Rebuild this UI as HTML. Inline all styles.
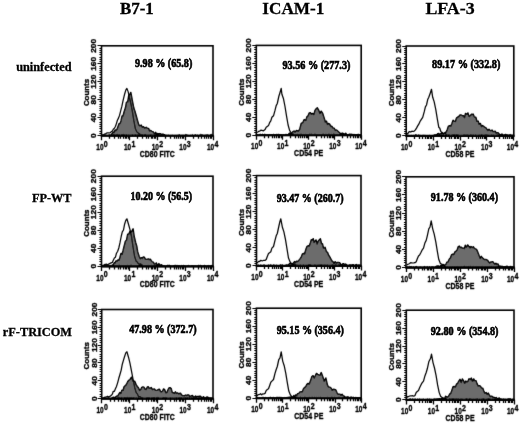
<!DOCTYPE html>
<html lang="en"><head><meta charset="utf-8"><title>Figure</title>
<style>html,body{margin:0;padding:0;background:#fff}body{width:520px;height:423px;overflow:hidden}svg{display:block}</style></head>
<body>
<svg width="520" height="423" viewBox="0 0 520 423">
<rect width="520" height="423" fill="#fff"/>
<g font-family="'Liberation Serif', serif" font-weight="bold" fill="#000" stroke="#000" stroke-width="0.3">
<text x="120.0" y="13.8" font-size="17.6" textLength="33.8" lengthAdjust="spacingAndGlyphs">B7-1</text>
<text x="262.3" y="13.8" font-size="17.6" textLength="62.0" lengthAdjust="spacingAndGlyphs">ICAM-1</text>
<text x="425.4" y="13.8" font-size="17.6" textLength="49.2" lengthAdjust="spacingAndGlyphs">LFA-3</text>
<text x="16.2" y="71.3" font-size="12.3" textLength="55.3" lengthAdjust="spacingAndGlyphs">uninfected</text>
<text x="32.0" y="201.6" font-size="12.3" textLength="39.5" lengthAdjust="spacingAndGlyphs">FP-WT</text>
<text x="2.8" y="336.3" font-size="12.3" textLength="69.2" lengthAdjust="spacingAndGlyphs">rF-TRICOM</text>
<text x="135.0" y="67.0" font-size="12" stroke-width="0.65" textLength="57.3" lengthAdjust="spacingAndGlyphs">9.98 % (65.8)</text>
<text x="282.4" y="68.6" font-size="12" stroke-width="0.65" textLength="68.0" lengthAdjust="spacingAndGlyphs">93.56 % (277.3)</text>
<text x="432.0" y="68.4" font-size="12" stroke-width="0.65" textLength="68.4" lengthAdjust="spacingAndGlyphs">89.17 % (332.8)</text>
<text x="130.5" y="199.8" font-size="12" stroke-width="0.65" textLength="61.5" lengthAdjust="spacingAndGlyphs">10.20 % (56.5)</text>
<text x="276.8" y="201.5" font-size="12" stroke-width="0.65" textLength="66.7" lengthAdjust="spacingAndGlyphs">93.47 % (260.7)</text>
<text x="430.8" y="201.0" font-size="12" stroke-width="0.65" textLength="67.2" lengthAdjust="spacingAndGlyphs">91.78 % (360.4)</text>
<text x="129.2" y="332.5" font-size="12" stroke-width="0.65" textLength="67.4" lengthAdjust="spacingAndGlyphs">47.98 % (372.7)</text>
<text x="276.8" y="334.3" font-size="12" stroke-width="0.65" textLength="67.0" lengthAdjust="spacingAndGlyphs">95.15 % (356.4)</text>
<text x="430.8" y="334.5" font-size="12" stroke-width="0.65" textLength="67.7" lengthAdjust="spacingAndGlyphs">92.80 % (354.8)</text>
</g>
<g id="fig" filter="url(#soft)">
<g>
<path d="M111.5 134.5L112.4 133.3L113.3 132.1L114.2 132.5L115.1 130.0L116.0 130.5L116.9 129.6L117.9 127.1L119.0 123.7L120.0 123.5L121.0 120.9L122.1 115.9L123.1 115.8L124.2 111.5L125.4 108.1L126.5 102.1L127.7 101.9L128.8 95.1L130.0 94.2L130.8 92.4L132.3 100.4L133.8 108.1L135.0 111.5L136.2 115.8L137.7 121.2L138.8 124.9L140.0 125.8L141.2 125.1L142.3 127.3L143.5 126.7L144.6 128.1L146.2 127.3L147.3 128.3L148.5 128.4L149.6 130.9L150.8 130.4L151.8 131.4L152.8 131.6L153.8 132.7L154.8 134.1L155.7 132.3L156.6 134.4L157.5 133.5L158.5 134.2L159.3 133.6L160.2 133.7L161.1 134.1L162.0 135.0L162.9 134.0L163.7 134.8L164.6 134.7V135.6H111.5Z" fill="#6c6c6c" stroke="#000" stroke-width="1.45" stroke-linejoin="round"/>
<path d="M103.1 134.5L104.0 134.5L104.8 133.9L105.7 133.9L106.6 133.0L107.5 132.8L108.4 132.8L109.2 133.0L110.3 132.7L111.3 131.6L112.3 131.2L113.3 129.2L114.4 128.3L115.4 126.5L116.4 123.6L117.4 120.3L118.5 118.1L119.6 115.2L120.8 110.4L121.9 106.2L123.1 100.4L124.6 94.2L125.8 90.1L126.9 88.4L128.2 91.9L129.2 96.5L130.8 103.5L132.3 111.2L133.8 120.4L135.4 128.8L136.9 131.9L137.9 132.8L139.0 133.5L140.0 134.2L141.0 134.9L142.1 135.0L143.1 135.0" fill="none" stroke="#000" stroke-width="1.25" stroke-linejoin="round"/>
<path d="M101.5 135.2L102.4 134.2L103.3 135.4L104.2 135.0L105.1 134.5L106.0 135.4L106.9 134.9L107.8 135.5L108.7 134.7L109.6 134.5L110.5 134.8L111.4 134.4L112.3 135.2L113.2 134.6L114.1 134.8L115.0 134.8L115.9 135.0L116.8 134.4L117.7 134.3L118.6 134.9L119.5 134.7L120.4 135.5L121.3 134.6L122.2 134.7L123.1 134.2L124.0 134.4L124.9 135.2L125.8 135.1L126.7 134.7L127.6 135.6L128.5 135.0L129.4 135.4L130.3 135.4L131.2 135.5L132.1 134.5L133.0 135.4L133.9 135.3L134.8 135.1L135.7 134.4L136.6 135.5L137.5 135.0L138.4 134.8L139.3 134.4L140.2 134.5L141.1 134.4L142.0 135.2L142.9 135.0L143.8 135.1L144.7 134.4L145.6 134.3L146.5 135.4L147.4 135.4L148.3 135.3L149.2 135.3L150.1 134.9L151.0 134.8L151.9 135.2L152.8 135.6L153.7 135.0L154.6 135.1L155.5 134.8L156.4 134.3L157.3 134.6L158.2 134.9L159.1 134.7L160.0 134.7L160.9 135.5L161.8 134.3L162.7 134.5L163.6 134.4L164.5 134.5L165.4 135.1L166.3 135.0L167.2 135.5L168.1 134.7L169.0 135.5L169.9 135.5L170.8 135.3L171.7 135.4L172.6 135.1L173.5 135.5L174.4 135.6L175.3 135.4L176.2 135.5L177.1 135.1L178.0 135.6L178.9 134.4L179.8 134.7L180.7 135.4L181.6 135.2L182.5 135.1L183.4 135.1L184.3 135.4L185.2 134.4L186.1 134.2L187.0 134.9L187.9 134.9L188.8 135.5L189.7 135.5L190.6 135.1L191.5 135.2L192.4 134.4L193.3 135.4L194.2 135.6L195.1 134.3L196.0 134.9L196.9 135.4L197.8 134.8L198.7 135.6L199.6 134.9L200.5 134.2L201.4 134.4L202.3 134.6L203.2 135.2L204.1 135.1L205.0 135.4L205.9 134.5L206.8 134.9L207.7 134.5L208.6 135.1L209.5 135.3L210.4 134.5L211.3 134.2L212.2 134.4V136.1H101.5Z" fill="#000" stroke="#000" stroke-width="0.5"/>
<rect x="101.5" y="45.8" width="111.5" height="89.8" fill="none" stroke="#000" stroke-width="1.6"/>
<path d="M100.8 135.7H213.7" stroke="#000" stroke-width="2.1" fill="none"/>
<path d="M101.5 135.50h-4.0M101.5 133.50h-2.1M101.5 131.50h-2.1M101.5 128.50h-2.1M101.5 126.50h-2.1M101.5 124.50h-2.1M101.5 122.50h-2.1M101.5 119.50h-2.1M101.5 117.50h-4.0M101.5 115.50h-2.1M101.5 113.50h-2.1M101.5 110.50h-2.1M101.5 108.50h-2.1M101.5 106.50h-2.1M101.5 104.50h-2.1M101.5 101.50h-2.1M101.5 99.50h-4.0M101.5 97.50h-2.1M101.5 95.50h-2.1M101.5 92.50h-2.1M101.5 90.50h-2.1M101.5 88.50h-2.1M101.5 86.50h-2.1M101.5 83.50h-2.1M101.5 81.50h-4.0M101.5 79.50h-2.1M101.5 77.50h-2.1M101.5 74.50h-2.1M101.5 72.50h-2.1M101.5 70.50h-2.1M101.5 68.50h-2.1M101.5 66.50h-2.1M101.5 63.50h-4.0M101.5 61.50h-2.1M101.5 59.50h-2.1M101.5 57.50h-2.1M101.5 54.50h-2.1M101.5 52.50h-2.1M101.5 50.50h-2.1M101.5 48.50h-2.1M101.5 45.50h-4.0" stroke="#000" stroke-width="1.15" fill="none"/>
<path d="M101.50 135.6v4.6M109.50 135.6v3.1M114.50 135.6v3.1M118.50 135.6v3.1M120.50 135.6v3.1M123.50 135.6v3.1M125.50 135.6v3.1M126.50 135.6v3.1M128.50 135.6v3.1M129.50 135.6v4.6M137.50 135.6v3.1M142.50 135.6v3.1M146.50 135.6v3.1M148.50 135.6v3.1M151.50 135.6v3.1M152.50 135.6v3.1M154.50 135.6v3.1M155.50 135.6v3.1M157.50 135.6v4.6M165.50 135.6v3.1M170.50 135.6v3.1M174.50 135.6v3.1M176.50 135.6v3.1M178.50 135.6v3.1M180.50 135.6v3.1M182.50 135.6v3.1M183.50 135.6v3.1M185.50 135.6v4.6M193.50 135.6v3.1M198.50 135.6v3.1M201.50 135.6v3.1M204.50 135.6v3.1M206.50 135.6v3.1M208.50 135.6v3.1M210.50 135.6v3.1M211.50 135.6v3.1M213.50 135.6v4.6" stroke="#000" stroke-width="1.3" fill="none"/>
<g font-family="'Liberation Sans', sans-serif" font-weight="bold" fill="#000" stroke="#000" stroke-width="0.35">
<text transform="translate(96.3 135.6) rotate(-90)" x="-2.3" y="0" font-size="7.6" textLength="4.6" lengthAdjust="spacingAndGlyphs">0</text>
<text transform="translate(96.3 117.6) rotate(-90)" x="-4.7" y="0" font-size="7.6" textLength="9.3" lengthAdjust="spacingAndGlyphs">40</text>
<text transform="translate(96.3 99.7) rotate(-90)" x="-4.7" y="0" font-size="7.6" textLength="9.3" lengthAdjust="spacingAndGlyphs">80</text>
<text transform="translate(96.3 81.7) rotate(-90)" x="-7.0" y="0" font-size="7.6" textLength="14.0" lengthAdjust="spacingAndGlyphs">120</text>
<text transform="translate(96.3 63.8) rotate(-90)" x="-7.0" y="0" font-size="7.6" textLength="14.0" lengthAdjust="spacingAndGlyphs">160</text>
<text transform="translate(96.3 45.8) rotate(-90)" x="-7.0" y="0" font-size="7.6" textLength="14.0" lengthAdjust="spacingAndGlyphs">200</text>
<text transform="translate(89.2 92.5) rotate(-90)" x="-13.6" y="0" font-size="8" textLength="27.2" lengthAdjust="spacingAndGlyphs">Counts</text>
<text x="96.3" y="149.8" font-size="9.3" textLength="7.2" lengthAdjust="spacingAndGlyphs">10</text>
<text x="103.8" y="146.6" font-size="8.2" textLength="3.9" lengthAdjust="spacingAndGlyphs">0</text>
<text x="124.0" y="149.8" font-size="9.3" textLength="7.2" lengthAdjust="spacingAndGlyphs">10</text>
<text x="131.5" y="146.6" font-size="8.2" textLength="3.9" lengthAdjust="spacingAndGlyphs">1</text>
<text x="151.7" y="149.8" font-size="9.3" textLength="7.2" lengthAdjust="spacingAndGlyphs">10</text>
<text x="159.2" y="146.6" font-size="8.2" textLength="3.9" lengthAdjust="spacingAndGlyphs">2</text>
<text x="179.3" y="149.8" font-size="9.3" textLength="7.2" lengthAdjust="spacingAndGlyphs">10</text>
<text x="186.8" y="146.6" font-size="8.2" textLength="3.9" lengthAdjust="spacingAndGlyphs">3</text>
<text x="207.0" y="149.8" font-size="9.3" textLength="7.2" lengthAdjust="spacingAndGlyphs">10</text>
<text x="214.5" y="146.6" font-size="8.2" textLength="3.9" lengthAdjust="spacingAndGlyphs">4</text>
<text x="139.8" y="156.6" font-size="8.6" textLength="35.0" lengthAdjust="spacingAndGlyphs">CD80 FITC</text>
</g>
</g>
<g>
<path d="M285.8 134.5L286.7 134.8L287.6 134.7L288.5 134.3L289.5 133.1L290.4 133.5L291.3 133.2L292.2 132.5L293.2 131.4L294.1 131.1L295.0 131.9L296.5 130.4L298.1 131.2L299.6 129.6L301.2 123.5L302.7 122.7L304.2 119.6L305.8 120.4L306.9 116.9L308.1 115.8L309.2 112.9L310.4 112.7L311.5 114.2L312.7 113.5L313.8 114.6L315.0 110.4L316.2 108.7L317.3 107.8L318.8 110.4L320.0 113.4L321.2 111.2L322.7 113.5L324.2 118.1L325.4 122.0L326.5 121.2L327.5 124.4L328.5 123.5L328.8 123.5L329.8 124.4L330.8 126.5L331.9 126.3L333.1 128.1L334.2 128.3L335.4 130.4L336.4 130.0L337.4 130.6L338.5 131.9L339.4 132.5L340.3 133.5L341.2 133.6L342.2 133.1L343.1 133.5L344.0 133.9L344.8 134.3L345.7 133.2L346.6 134.4L347.5 134.9L348.4 134.8L349.2 134.5L350.1 134.9L351.0 134.6L351.9 134.2L352.8 135.1L353.7 134.5L354.6 135.1L355.5 135.1L356.4 134.7L357.3 134.8L358.2 135.1L359.1 135.1L360.0 135.0V135.2H285.8Z" fill="#6c6c6c" stroke="#000" stroke-width="1.45" stroke-linejoin="round"/>
<path d="M257.3 132.7L258.5 131.4L259.6 131.2L260.8 130.1L261.9 130.4L263.5 130.8L265.0 129.6L266.2 127.3L267.3 126.5L268.5 125.6L269.6 122.7L270.8 120.9L271.9 117.3L273.5 115.8L275.0 110.4L276.2 105.6L277.3 103.5L278.8 96.5L280.4 91.2L281.2 88.4L281.9 94.2L283.5 98.8L285.0 106.5L286.5 115.8L288.1 125.0L289.6 130.4L291.2 133.0L292.3 134.1L293.5 134.2L294.5 134.9L295.5 134.7L296.5 134.7" fill="none" stroke="#000" stroke-width="1.25" stroke-linejoin="round"/>
<path d="M256.3 134.7L257.2 134.4L258.1 135.0L259.0 135.2L259.9 133.8L260.8 134.3L261.7 134.5L262.6 133.9L263.5 134.6L264.4 134.0L265.3 134.0L266.2 134.9L267.1 134.8L268.0 134.8L268.9 134.9L269.8 134.4L270.7 134.8L271.6 134.6L272.5 135.0L273.4 133.9L274.3 134.7L275.2 134.6L276.1 134.4L277.0 133.9L277.9 134.6L278.8 133.9L279.7 134.5L280.6 134.5L281.5 134.5L282.4 135.2L283.3 134.6L284.2 134.9L285.1 135.2L286.0 134.1L286.9 135.0L287.8 134.5L288.7 134.2L289.6 134.4L290.5 134.7L291.4 134.5L292.3 134.4L293.2 134.1L294.1 135.1L295.0 134.4L295.9 134.9L296.8 134.8L297.7 134.1L298.6 134.5L299.5 134.4L300.4 134.1L301.3 133.9L302.2 134.6L303.1 134.3L304.0 134.5L304.9 134.5L305.8 134.2L306.7 134.6L307.6 134.5L308.5 134.5L309.4 133.9L310.3 134.2L311.2 134.0L312.1 133.9L313.0 134.8L313.9 134.4L314.8 133.9L315.7 134.0L316.6 135.0L317.5 135.0L318.4 134.6L319.3 135.1L320.2 134.9L321.1 135.1L322.0 134.3L322.9 134.1L323.8 133.9L324.7 135.0L325.6 134.2L326.5 134.3L327.4 135.0L328.3 134.0L329.2 133.8L330.1 134.9L331.0 133.9L331.9 134.6L332.8 134.5L333.7 133.8L334.6 134.0L335.5 135.0L336.4 134.6L337.3 134.5L338.2 134.7L339.1 134.9L340.0 134.8L340.9 134.2L341.8 135.2L342.7 134.4L343.6 134.6L344.5 135.2L345.4 134.7L346.3 134.3L347.2 134.5L348.1 135.1L349.0 133.8L349.9 134.1L350.8 133.8L351.7 135.1L352.6 134.8L353.5 135.1L354.4 134.1L355.3 134.8L356.2 135.0L357.1 134.6L358.0 133.9L358.9 134.1L359.8 134.8L360.7 135.0V135.7H256.3Z" fill="#000" stroke="#000" stroke-width="0.5"/>
<rect x="256.3" y="45.4" width="104.9" height="89.8" fill="none" stroke="#000" stroke-width="1.6"/>
<path d="M255.6 135.3H361.9" stroke="#000" stroke-width="2.1" fill="none"/>
<path d="M256.3 135.50h-4.0M256.3 132.50h-2.1M256.3 130.50h-2.1M256.3 128.50h-2.1M256.3 126.50h-2.1M256.3 123.50h-2.1M256.3 121.50h-2.1M256.3 119.50h-2.1M256.3 117.50h-4.0M256.3 114.50h-2.1M256.3 112.50h-2.1M256.3 110.50h-2.1M256.3 108.50h-2.1M256.3 106.50h-2.1M256.3 103.50h-2.1M256.3 101.50h-2.1M256.3 99.50h-4.0M256.3 97.50h-2.1M256.3 94.50h-2.1M256.3 92.50h-2.1M256.3 90.50h-2.1M256.3 88.50h-2.1M256.3 85.50h-2.1M256.3 83.50h-2.1M256.3 81.50h-4.0M256.3 79.50h-2.1M256.3 76.50h-2.1M256.3 74.50h-2.1M256.3 72.50h-2.1M256.3 70.50h-2.1M256.3 67.50h-2.1M256.3 65.50h-2.1M256.3 63.50h-4.0M256.3 61.50h-2.1M256.3 58.50h-2.1M256.3 56.50h-2.1M256.3 54.50h-2.1M256.3 52.50h-2.1M256.3 49.50h-2.1M256.3 47.50h-2.1M256.3 45.50h-4.0" stroke="#000" stroke-width="1.15" fill="none"/>
<path d="M256.50 135.2v4.6M264.50 135.2v3.1M268.50 135.2v3.1M272.50 135.2v3.1M274.50 135.2v3.1M276.50 135.2v3.1M278.50 135.2v3.1M279.50 135.2v3.1M281.50 135.2v3.1M282.50 135.2v4.6M290.50 135.2v3.1M295.50 135.2v3.1M298.50 135.2v3.1M300.50 135.2v3.1M302.50 135.2v3.1M304.50 135.2v3.1M306.50 135.2v3.1M307.50 135.2v3.1M308.50 135.2v4.6M316.50 135.2v3.1M321.50 135.2v3.1M324.50 135.2v3.1M327.50 135.2v3.1M329.50 135.2v3.1M330.50 135.2v3.1M332.50 135.2v3.1M333.50 135.2v3.1M334.50 135.2v4.6M342.50 135.2v3.1M347.50 135.2v3.1M350.50 135.2v3.1M353.50 135.2v3.1M355.50 135.2v3.1M357.50 135.2v3.1M358.50 135.2v3.1M360.50 135.2v3.1M361.50 135.2v4.6" stroke="#000" stroke-width="1.3" fill="none"/>
<g font-family="'Liberation Sans', sans-serif" font-weight="bold" fill="#000" stroke="#000" stroke-width="0.35">
<text transform="translate(251.1 135.2) rotate(-90)" x="-2.3" y="0" font-size="7.6" textLength="4.6" lengthAdjust="spacingAndGlyphs">0</text>
<text transform="translate(251.1 117.2) rotate(-90)" x="-4.7" y="0" font-size="7.6" textLength="9.3" lengthAdjust="spacingAndGlyphs">40</text>
<text transform="translate(251.1 99.3) rotate(-90)" x="-4.7" y="0" font-size="7.6" textLength="9.3" lengthAdjust="spacingAndGlyphs">80</text>
<text transform="translate(251.1 81.3) rotate(-90)" x="-7.0" y="0" font-size="7.6" textLength="14.0" lengthAdjust="spacingAndGlyphs">120</text>
<text transform="translate(251.1 63.4) rotate(-90)" x="-7.0" y="0" font-size="7.6" textLength="14.0" lengthAdjust="spacingAndGlyphs">160</text>
<text transform="translate(251.1 45.4) rotate(-90)" x="-7.0" y="0" font-size="7.6" textLength="14.0" lengthAdjust="spacingAndGlyphs">200</text>
<text transform="translate(244.0 92.1) rotate(-90)" x="-13.6" y="0" font-size="8" textLength="27.2" lengthAdjust="spacingAndGlyphs">Counts</text>
<text x="251.1" y="149.4" font-size="9.3" textLength="7.2" lengthAdjust="spacingAndGlyphs">10</text>
<text x="258.6" y="146.2" font-size="8.2" textLength="3.9" lengthAdjust="spacingAndGlyphs">0</text>
<text x="277.1" y="149.4" font-size="9.3" textLength="7.2" lengthAdjust="spacingAndGlyphs">10</text>
<text x="284.6" y="146.2" font-size="8.2" textLength="3.9" lengthAdjust="spacingAndGlyphs">1</text>
<text x="303.2" y="149.4" font-size="9.3" textLength="7.2" lengthAdjust="spacingAndGlyphs">10</text>
<text x="310.7" y="146.2" font-size="8.2" textLength="3.9" lengthAdjust="spacingAndGlyphs">2</text>
<text x="329.2" y="149.4" font-size="9.3" textLength="7.2" lengthAdjust="spacingAndGlyphs">10</text>
<text x="336.7" y="146.2" font-size="8.2" textLength="3.9" lengthAdjust="spacingAndGlyphs">3</text>
<text x="355.2" y="149.4" font-size="9.3" textLength="7.2" lengthAdjust="spacingAndGlyphs">10</text>
<text x="362.7" y="146.2" font-size="8.2" textLength="3.9" lengthAdjust="spacingAndGlyphs">4</text>
<text x="294.1" y="156.2" font-size="8.6" textLength="29.2" lengthAdjust="spacingAndGlyphs">CD54 PE</text>
</g>
</g>
<g>
<path d="M434.2 135.0L435.1 135.5L436.0 134.8L436.9 134.9L437.7 133.6L438.6 133.4L439.5 134.5L440.4 133.9L441.3 133.5L442.2 132.5L443.2 134.2L444.1 133.3L445.0 132.7L446.2 132.0L447.3 129.6L448.5 126.1L449.6 125.8L450.8 126.1L451.9 123.5L453.1 120.3L454.2 121.2L455.4 121.4L456.5 118.1L457.7 117.1L458.8 116.5L460.0 114.9L461.2 115.0L462.3 115.7L463.5 115.8L464.5 117.6L465.5 113.4L466.5 114.2L466.9 114.2L467.9 112.9L468.8 115.8L469.2 116.5L470.4 115.5L471.5 114.2L471.9 114.5L473.1 114.1L474.2 116.5L474.6 117.3L475.8 117.2L476.9 121.2L478.1 121.1L479.2 124.2L480.4 123.5L481.5 126.5L482.6 125.6L483.6 126.3L484.6 127.3L485.8 127.6L486.9 129.3L487.9 130.5L489.0 129.3L490.0 130.4L491.0 130.7L492.1 130.1L493.1 131.5L494.1 131.6L495.1 131.2L496.2 133.0L497.2 132.8L498.2 132.8L499.2 134.2L500.1 134.8L501.0 134.6L501.9 134.1L502.8 134.7L503.7 135.6L504.6 135.0L505.5 134.4L506.3 135.6L507.2 135.0L508.0 135.1L508.9 135.7L509.7 135.1L510.6 135.2L511.5 135.5L512.3 135.3V135.8H434.2Z" fill="#6c6c6c" stroke="#000" stroke-width="1.45" stroke-linejoin="round"/>
<path d="M406.8 133.5L407.8 133.6L408.7 132.0L409.6 131.6L410.8 132.0L411.9 131.2L413.1 131.5L414.2 131.2L415.4 129.9L416.5 128.1L417.7 125.9L418.8 124.2L420.0 121.5L421.2 119.6L422.7 117.3L424.2 111.9L425.4 106.8L426.5 105.0L427.7 99.6L428.8 97.3L430.4 92.7L431.5 89.3L432.7 97.3L434.2 101.9L435.8 109.6L437.3 118.8L438.8 127.3L439.8 128.3L440.7 131.2L441.7 132.7L442.7 133.5L443.7 133.4L444.6 133.5L445.6 133.7L446.5 134.5" fill="none" stroke="#000" stroke-width="1.25" stroke-linejoin="round"/>
<path d="M406.2 134.6L407.1 134.6L408.0 134.9L408.9 135.4L409.8 135.5L410.7 135.4L411.6 135.2L412.5 135.6L413.4 135.2L414.3 135.4L415.2 134.5L416.1 134.4L417.0 135.0L417.9 135.5L418.8 134.4L419.7 135.4L420.6 135.3L421.5 135.8L422.4 135.3L423.3 135.1L424.2 135.1L425.1 135.5L426.0 135.1L426.9 135.8L427.8 135.4L428.7 135.7L429.6 135.2L430.5 135.7L431.4 135.8L432.3 135.4L433.2 135.5L434.1 135.0L435.0 135.1L435.9 134.7L436.8 134.9L437.7 134.8L438.6 134.6L439.5 135.3L440.4 135.3L441.3 134.4L442.2 135.6L443.1 134.8L444.0 134.9L444.9 135.7L445.8 134.6L446.7 134.6L447.6 134.9L448.5 134.8L449.4 134.7L450.3 135.6L451.2 135.1L452.1 135.1L453.0 134.6L453.9 134.7L454.8 134.6L455.7 135.0L456.6 134.6L457.5 134.8L458.4 134.8L459.3 135.5L460.2 135.8L461.1 135.6L462.0 135.3L462.9 135.7L463.8 134.6L464.7 135.0L465.6 134.9L466.5 134.9L467.4 134.8L468.3 135.1L469.2 135.8L470.1 134.7L471.0 134.8L471.9 135.1L472.8 135.1L473.7 134.9L474.6 135.7L475.5 134.8L476.4 135.4L477.3 135.7L478.2 135.4L479.1 134.8L480.0 135.5L480.9 134.8L481.8 134.4L482.7 135.1L483.6 135.3L484.5 135.1L485.4 134.8L486.3 134.7L487.2 134.9L488.1 134.9L489.0 135.7L489.9 135.6L490.8 135.4L491.7 134.8L492.6 135.4L493.5 135.0L494.4 135.8L495.3 135.7L496.2 135.4L497.1 134.9L498.0 134.8L498.9 134.9L499.8 135.4L500.7 135.1L501.6 135.1L502.5 135.1L503.4 135.6L504.3 134.5L505.2 135.5L506.1 134.4L507.0 134.5L507.9 135.8L508.8 135.2L509.7 134.7L510.6 134.4L511.5 135.2L512.4 135.4L513.3 135.5V136.3H406.2Z" fill="#000" stroke="#000" stroke-width="0.5"/>
<rect x="406.2" y="46.0" width="107.6" height="89.8" fill="none" stroke="#000" stroke-width="1.6"/>
<path d="M405.5 135.9H514.5" stroke="#000" stroke-width="2.1" fill="none"/>
<path d="M406.2 135.50h-4.0M406.2 133.50h-2.1M406.2 131.50h-2.1M406.2 129.50h-2.1M406.2 126.50h-2.1M406.2 124.50h-2.1M406.2 122.50h-2.1M406.2 120.50h-2.1M406.2 117.50h-4.0M406.2 115.50h-2.1M406.2 113.50h-2.1M406.2 111.50h-2.1M406.2 108.50h-2.1M406.2 106.50h-2.1M406.2 104.50h-2.1M406.2 102.50h-2.1M406.2 99.50h-4.0M406.2 97.50h-2.1M406.2 95.50h-2.1M406.2 93.50h-2.1M406.2 90.50h-2.1M406.2 88.50h-2.1M406.2 86.50h-2.1M406.2 84.50h-2.1M406.2 81.50h-4.0M406.2 79.50h-2.1M406.2 77.50h-2.1M406.2 75.50h-2.1M406.2 72.50h-2.1M406.2 70.50h-2.1M406.2 68.50h-2.1M406.2 66.50h-2.1M406.2 63.50h-4.0M406.2 61.50h-2.1M406.2 59.50h-2.1M406.2 57.50h-2.1M406.2 54.50h-2.1M406.2 52.50h-2.1M406.2 50.50h-2.1M406.2 48.50h-2.1M406.2 46.50h-4.0" stroke="#000" stroke-width="1.15" fill="none"/>
<path d="M406.50 135.8v4.6M414.50 135.8v3.1M419.50 135.8v3.1M422.50 135.8v3.1M425.50 135.8v3.1M427.50 135.8v3.1M428.50 135.8v3.1M430.50 135.8v3.1M431.50 135.8v3.1M433.50 135.8v4.6M441.50 135.8v3.1M445.50 135.8v3.1M449.50 135.8v3.1M451.50 135.8v3.1M454.50 135.8v3.1M455.50 135.8v3.1M457.50 135.8v3.1M458.50 135.8v3.1M460.50 135.8v4.6M468.50 135.8v3.1M472.50 135.8v3.1M476.50 135.8v3.1M478.50 135.8v3.1M480.50 135.8v3.1M482.50 135.8v3.1M484.50 135.8v3.1M485.50 135.8v3.1M486.50 135.8v4.6M494.50 135.8v3.1M499.50 135.8v3.1M503.50 135.8v3.1M505.50 135.8v3.1M507.50 135.8v3.1M509.50 135.8v3.1M511.50 135.8v3.1M512.50 135.8v3.1M513.50 135.8v4.6" stroke="#000" stroke-width="1.3" fill="none"/>
<g font-family="'Liberation Sans', sans-serif" font-weight="bold" fill="#000" stroke="#000" stroke-width="0.35">
<text transform="translate(401.0 135.8) rotate(-90)" x="-2.3" y="0" font-size="7.6" textLength="4.6" lengthAdjust="spacingAndGlyphs">0</text>
<text transform="translate(401.0 117.8) rotate(-90)" x="-4.7" y="0" font-size="7.6" textLength="9.3" lengthAdjust="spacingAndGlyphs">40</text>
<text transform="translate(401.0 99.9) rotate(-90)" x="-4.7" y="0" font-size="7.6" textLength="9.3" lengthAdjust="spacingAndGlyphs">80</text>
<text transform="translate(401.0 81.9) rotate(-90)" x="-7.0" y="0" font-size="7.6" textLength="14.0" lengthAdjust="spacingAndGlyphs">120</text>
<text transform="translate(401.0 64.0) rotate(-90)" x="-7.0" y="0" font-size="7.6" textLength="14.0" lengthAdjust="spacingAndGlyphs">160</text>
<text transform="translate(401.0 46.0) rotate(-90)" x="-7.0" y="0" font-size="7.6" textLength="14.0" lengthAdjust="spacingAndGlyphs">200</text>
<text transform="translate(393.9 92.7) rotate(-90)" x="-13.6" y="0" font-size="8" textLength="27.2" lengthAdjust="spacingAndGlyphs">Counts</text>
<text x="401.0" y="150.0" font-size="9.3" textLength="7.2" lengthAdjust="spacingAndGlyphs">10</text>
<text x="408.5" y="146.8" font-size="8.2" textLength="3.9" lengthAdjust="spacingAndGlyphs">0</text>
<text x="427.7" y="150.0" font-size="9.3" textLength="7.2" lengthAdjust="spacingAndGlyphs">10</text>
<text x="435.2" y="146.8" font-size="8.2" textLength="3.9" lengthAdjust="spacingAndGlyphs">1</text>
<text x="454.4" y="150.0" font-size="9.3" textLength="7.2" lengthAdjust="spacingAndGlyphs">10</text>
<text x="461.9" y="146.8" font-size="8.2" textLength="3.9" lengthAdjust="spacingAndGlyphs">2</text>
<text x="481.1" y="150.0" font-size="9.3" textLength="7.2" lengthAdjust="spacingAndGlyphs">10</text>
<text x="488.6" y="146.8" font-size="8.2" textLength="3.9" lengthAdjust="spacingAndGlyphs">3</text>
<text x="506.8" y="150.0" font-size="9.3" textLength="7.2" lengthAdjust="spacingAndGlyphs">10</text>
<text x="514.3" y="146.8" font-size="8.2" textLength="3.9" lengthAdjust="spacingAndGlyphs">4</text>
<text x="445.5" y="156.8" font-size="8.6" textLength="29.0" lengthAdjust="spacingAndGlyphs">CD58 PE</text>
</g>
</g>
<g>
<path d="M112.3 265.0L113.2 265.2L114.2 262.8L115.1 262.9L116.0 260.9L116.9 261.2L117.9 260.0L119.0 260.2L120.0 257.3L121.0 253.4L122.1 254.2L123.1 250.4L124.2 245.8L125.4 241.2L126.5 240.2L127.7 234.2L128.8 234.1L130.0 231.2L131.5 231.9L133.1 228.8L134.2 236.5L135.7 242.7L136.7 245.9L137.7 251.9L139.2 256.5L140.3 258.7L141.3 257.7L142.3 258.4L143.3 257.0L144.4 257.2L145.4 259.3L146.3 259.4L147.3 259.3L148.3 258.9L149.2 259.6L150.3 259.2L151.3 260.7L152.3 261.9L153.3 262.1L154.4 264.1L155.4 263.9L156.3 262.9L157.1 264.7L158.0 265.0L158.9 263.6L159.8 265.4L160.7 265.0L161.5 264.7V266.3H112.3Z" fill="#6c6c6c" stroke="#000" stroke-width="1.45" stroke-linejoin="round"/>
<path d="M103.1 265.0L104.0 265.4L104.8 264.4L105.7 264.4L106.6 264.2L107.5 265.0L108.4 264.2L109.2 263.9L110.3 263.2L111.3 262.8L112.3 262.4L113.3 260.2L114.4 258.0L115.4 257.3L116.5 253.2L117.7 251.2L118.8 248.0L120.0 242.7L121.2 236.5L122.3 231.9L123.5 230.0L124.6 224.2L125.8 220.4L126.9 218.8L128.5 224.2L130.0 229.6L131.5 236.5L133.1 247.3L134.6 256.5L136.2 261.2L137.3 262.1L138.5 263.9L139.4 264.2L140.3 263.9L141.2 264.4L142.2 265.4L143.1 265.0" fill="none" stroke="#000" stroke-width="1.25" stroke-linejoin="round"/>
<path d="M101.5 265.1L102.4 265.2L103.3 265.4L104.2 265.0L105.1 265.0L106.0 265.5L106.9 265.3L107.8 266.2L108.7 265.3L109.6 265.7L110.5 265.2L111.4 265.4L112.3 265.9L113.2 266.2L114.1 265.0L115.0 266.1L115.9 265.6L116.8 265.8L117.7 265.9L118.6 265.3L119.5 264.9L120.4 265.9L121.3 265.4L122.2 265.9L123.1 265.5L124.0 265.7L124.9 266.1L125.8 266.1L126.7 266.0L127.6 265.0L128.5 265.6L129.4 266.0L130.3 265.0L131.2 264.9L132.1 265.7L133.0 266.1L133.9 266.0L134.8 266.2L135.7 265.8L136.6 266.2L137.5 266.0L138.4 265.9L139.3 265.5L140.2 265.1L141.1 265.3L142.0 265.7L142.9 265.7L143.8 265.6L144.7 265.8L145.6 265.8L146.5 266.2L147.4 265.9L148.3 264.9L149.2 266.1L150.1 265.6L151.0 265.4L151.9 265.1L152.8 266.0L153.7 265.9L154.6 266.0L155.5 265.7L156.4 265.7L157.3 265.0L158.2 265.1L159.1 265.1L160.0 266.3L160.9 266.3L161.8 265.3L162.7 265.0L163.6 265.6L164.5 265.5L165.4 266.3L166.3 265.8L167.2 265.0L168.1 265.1L169.0 265.1L169.9 264.9L170.8 266.0L171.7 266.1L172.6 266.1L173.5 265.6L174.4 265.3L175.3 265.0L176.2 265.3L177.1 265.4L178.0 265.2L178.9 265.7L179.8 265.5L180.7 266.2L181.6 265.2L182.5 266.0L183.4 265.0L184.3 265.4L185.2 265.9L186.1 266.1L187.0 265.9L187.9 265.4L188.8 265.3L189.7 266.1L190.6 266.2L191.5 265.6L192.4 265.5L193.3 265.8L194.2 266.0L195.1 265.5L196.0 266.3L196.9 265.9L197.8 265.7L198.7 265.0L199.6 265.4L200.5 265.1L201.4 265.6L202.3 266.0L203.2 266.0L204.1 265.0L205.0 265.3L205.9 265.9L206.8 266.3L207.7 265.6L208.6 265.4L209.5 265.7L210.4 265.9L211.3 265.4L212.2 265.0V266.8H101.5Z" fill="#000" stroke="#000" stroke-width="0.5"/>
<rect x="101.5" y="176.2" width="111.5" height="90.1" fill="none" stroke="#000" stroke-width="1.6"/>
<path d="M100.8 266.4H213.7" stroke="#000" stroke-width="2.1" fill="none"/>
<path d="M101.5 266.50h-4.0M101.5 264.50h-2.1M101.5 261.50h-2.1M101.5 259.50h-2.1M101.5 257.50h-2.1M101.5 255.50h-2.1M101.5 252.50h-2.1M101.5 250.50h-2.1M101.5 248.50h-4.0M101.5 246.50h-2.1M101.5 243.50h-2.1M101.5 241.50h-2.1M101.5 239.50h-2.1M101.5 237.50h-2.1M101.5 234.50h-2.1M101.5 232.50h-2.1M101.5 230.50h-4.0M101.5 228.50h-2.1M101.5 225.50h-2.1M101.5 223.50h-2.1M101.5 221.50h-2.1M101.5 218.50h-2.1M101.5 216.50h-2.1M101.5 214.50h-2.1M101.5 212.50h-4.0M101.5 209.50h-2.1M101.5 207.50h-2.1M101.5 205.50h-2.1M101.5 203.50h-2.1M101.5 200.50h-2.1M101.5 198.50h-2.1M101.5 196.50h-2.1M101.5 194.50h-4.0M101.5 191.50h-2.1M101.5 189.50h-2.1M101.5 187.50h-2.1M101.5 185.50h-2.1M101.5 182.50h-2.1M101.5 180.50h-2.1M101.5 178.50h-2.1M101.5 176.50h-4.0" stroke="#000" stroke-width="1.15" fill="none"/>
<path d="M101.50 266.3v4.6M109.50 266.3v3.1M114.50 266.3v3.1M118.50 266.3v3.1M120.50 266.3v3.1M123.50 266.3v3.1M125.50 266.3v3.1M126.50 266.3v3.1M128.50 266.3v3.1M129.50 266.3v4.6M137.50 266.3v3.1M142.50 266.3v3.1M146.50 266.3v3.1M148.50 266.3v3.1M151.50 266.3v3.1M152.50 266.3v3.1M154.50 266.3v3.1M155.50 266.3v3.1M157.50 266.3v4.6M165.50 266.3v3.1M170.50 266.3v3.1M174.50 266.3v3.1M176.50 266.3v3.1M178.50 266.3v3.1M180.50 266.3v3.1M182.50 266.3v3.1M183.50 266.3v3.1M185.50 266.3v4.6M193.50 266.3v3.1M198.50 266.3v3.1M201.50 266.3v3.1M204.50 266.3v3.1M206.50 266.3v3.1M208.50 266.3v3.1M210.50 266.3v3.1M211.50 266.3v3.1M213.50 266.3v4.6" stroke="#000" stroke-width="1.3" fill="none"/>
<g font-family="'Liberation Sans', sans-serif" font-weight="bold" fill="#000" stroke="#000" stroke-width="0.35">
<text transform="translate(96.3 266.3) rotate(-90)" x="-2.3" y="0" font-size="7.6" textLength="4.6" lengthAdjust="spacingAndGlyphs">0</text>
<text transform="translate(96.3 248.3) rotate(-90)" x="-4.7" y="0" font-size="7.6" textLength="9.3" lengthAdjust="spacingAndGlyphs">40</text>
<text transform="translate(96.3 230.3) rotate(-90)" x="-4.7" y="0" font-size="7.6" textLength="9.3" lengthAdjust="spacingAndGlyphs">80</text>
<text transform="translate(96.3 212.2) rotate(-90)" x="-7.0" y="0" font-size="7.6" textLength="14.0" lengthAdjust="spacingAndGlyphs">120</text>
<text transform="translate(96.3 194.2) rotate(-90)" x="-7.0" y="0" font-size="7.6" textLength="14.0" lengthAdjust="spacingAndGlyphs">160</text>
<text transform="translate(96.3 176.2) rotate(-90)" x="-7.0" y="0" font-size="7.6" textLength="14.0" lengthAdjust="spacingAndGlyphs">200</text>
<text transform="translate(89.2 223.1) rotate(-90)" x="-13.6" y="0" font-size="8" textLength="27.2" lengthAdjust="spacingAndGlyphs">Counts</text>
<text x="96.3" y="280.5" font-size="9.3" textLength="7.2" lengthAdjust="spacingAndGlyphs">10</text>
<text x="103.8" y="277.3" font-size="8.2" textLength="3.9" lengthAdjust="spacingAndGlyphs">0</text>
<text x="124.0" y="280.5" font-size="9.3" textLength="7.2" lengthAdjust="spacingAndGlyphs">10</text>
<text x="131.5" y="277.3" font-size="8.2" textLength="3.9" lengthAdjust="spacingAndGlyphs">1</text>
<text x="151.7" y="280.5" font-size="9.3" textLength="7.2" lengthAdjust="spacingAndGlyphs">10</text>
<text x="159.2" y="277.3" font-size="8.2" textLength="3.9" lengthAdjust="spacingAndGlyphs">2</text>
<text x="179.3" y="280.5" font-size="9.3" textLength="7.2" lengthAdjust="spacingAndGlyphs">10</text>
<text x="186.8" y="277.3" font-size="8.2" textLength="3.9" lengthAdjust="spacingAndGlyphs">3</text>
<text x="207.0" y="280.5" font-size="9.3" textLength="7.2" lengthAdjust="spacingAndGlyphs">10</text>
<text x="214.5" y="277.3" font-size="8.2" textLength="3.9" lengthAdjust="spacingAndGlyphs">4</text>
<text x="139.8" y="287.3" font-size="8.6" textLength="35.0" lengthAdjust="spacingAndGlyphs">CD80 FITC</text>
</g>
</g>
<g>
<path d="M288.1 265.0L289.0 264.2L289.9 263.4L290.8 263.7L291.7 263.5L292.6 263.8L293.5 263.0L294.5 261.6L295.5 262.6L296.5 261.2L297.7 261.5L298.8 260.4L300.0 258.9L301.2 257.3L302.3 254.2L303.5 253.5L304.6 253.8L305.8 249.6L306.9 246.7L308.1 245.8L309.2 246.1L310.4 242.7L311.3 239.8L312.2 240.1L313.2 238.7L314.1 242.4L315.0 241.2L316.0 239.9L317.1 243.9L318.1 241.2L319.2 240.0L320.4 238.8L321.5 243.5L322.5 244.0L323.5 248.1L324.9 248.1L325.0 247.3L326.5 251.9L327.5 252.2L328.5 255.0L329.6 256.6L330.8 258.8L331.9 260.9L333.1 261.9L334.1 263.5L335.1 261.7L336.2 263.0L337.3 262.4L338.5 262.4L339.6 262.6L340.8 264.2L341.7 265.3L342.7 263.8L343.7 263.8L344.6 264.7L345.5 264.0L346.4 264.6L347.3 265.5L348.1 265.6L349.0 265.4L349.9 265.7L350.8 265.2L351.7 265.7L352.6 264.9L353.5 264.7L354.5 265.7L355.4 265.6L356.3 264.6L357.2 265.5L358.2 265.1L359.1 265.1L360.0 265.3V265.8H288.1Z" fill="#6c6c6c" stroke="#000" stroke-width="1.45" stroke-linejoin="round"/>
<path d="M256.8 263.0L257.8 262.2L258.7 261.4L259.6 261.5L260.6 260.3L261.7 260.6L262.7 260.8L263.8 260.3L265.0 260.4L266.2 259.5L267.3 256.5L268.5 253.6L269.6 252.7L270.8 251.8L271.9 248.1L273.5 246.5L275.0 240.4L276.2 235.8L277.3 233.5L278.8 226.5L279.8 222.0L280.8 218.8L282.4 227.3L283.9 231.9L285.5 239.6L287.0 248.8L288.5 258.1L290.1 261.9L291.0 263.4L291.9 263.9L292.9 264.6L293.8 264.2L294.8 263.9L295.8 264.7" fill="none" stroke="#000" stroke-width="1.25" stroke-linejoin="round"/>
<path d="M256.5 265.1L257.4 265.3L258.3 264.5L259.2 265.5L260.1 265.3L261.0 264.5L261.9 265.8L262.8 265.2L263.7 264.7L264.6 264.7L265.5 265.7L266.4 265.8L267.3 265.7L268.2 264.5L269.1 265.4L270.0 264.8L270.9 264.5L271.8 265.3L272.7 265.4L273.6 264.5L274.5 264.9L275.4 265.4L276.3 264.8L277.2 265.4L278.1 265.4L279.0 265.8L279.9 264.7L280.8 264.5L281.7 264.9L282.6 264.5L283.5 265.8L284.4 265.5L285.3 265.1L286.2 264.5L287.1 264.5L288.0 265.3L288.9 265.4L289.8 265.2L290.7 265.1L291.6 264.5L292.5 265.5L293.4 264.7L294.3 264.8L295.2 264.6L296.1 264.7L297.0 264.9L297.9 265.3L298.8 265.4L299.7 265.3L300.6 264.7L301.5 265.7L302.4 265.5L303.3 264.7L304.2 265.5L305.1 265.7L306.0 265.8L306.9 265.0L307.8 265.3L308.7 264.4L309.6 264.6L310.5 264.4L311.4 265.4L312.3 265.7L313.2 265.7L314.1 265.1L315.0 264.8L315.9 265.2L316.8 265.5L317.7 265.2L318.6 264.9L319.5 264.9L320.4 264.8L321.3 264.6L322.2 264.9L323.1 265.6L324.0 264.6L324.9 265.4L325.8 265.0L326.7 265.3L327.6 264.8L328.5 265.5L329.4 265.5L330.3 265.5L331.2 265.6L332.1 264.6L333.0 265.0L333.9 265.3L334.8 265.2L335.7 264.4L336.6 265.1L337.5 265.5L338.4 264.7L339.3 264.9L340.2 264.4L341.1 265.7L342.0 265.1L342.9 264.7L343.8 264.6L344.7 264.5L345.6 265.7L346.5 265.4L347.4 265.6L348.3 265.5L349.2 264.4L350.1 265.0L351.0 264.5L351.9 265.3L352.8 264.6L353.7 265.2L354.6 265.4L355.5 264.7L356.4 264.5L357.3 265.7L358.2 265.0L359.1 264.9L360.0 265.5L360.9 265.3V266.3H256.5Z" fill="#000" stroke="#000" stroke-width="0.5"/>
<rect x="256.5" y="175.6" width="104.5" height="90.2" fill="none" stroke="#000" stroke-width="1.6"/>
<path d="M255.8 265.9H361.7" stroke="#000" stroke-width="2.1" fill="none"/>
<path d="M256.5 265.50h-4.0M256.5 263.50h-2.1M256.5 261.50h-2.1M256.5 259.50h-2.1M256.5 256.50h-2.1M256.5 254.50h-2.1M256.5 252.50h-2.1M256.5 250.50h-2.1M256.5 247.50h-4.0M256.5 245.50h-2.1M256.5 243.50h-2.1M256.5 240.50h-2.1M256.5 238.50h-2.1M256.5 236.50h-2.1M256.5 234.50h-2.1M256.5 231.50h-2.1M256.5 229.50h-4.0M256.5 227.50h-2.1M256.5 225.50h-2.1M256.5 222.50h-2.1M256.5 220.50h-2.1M256.5 218.50h-2.1M256.5 216.50h-2.1M256.5 213.50h-2.1M256.5 211.50h-4.0M256.5 209.50h-2.1M256.5 207.50h-2.1M256.5 204.50h-2.1M256.5 202.50h-2.1M256.5 200.50h-2.1M256.5 198.50h-2.1M256.5 195.50h-2.1M256.5 193.50h-4.0M256.5 191.50h-2.1M256.5 189.50h-2.1M256.5 186.50h-2.1M256.5 184.50h-2.1M256.5 182.50h-2.1M256.5 180.50h-2.1M256.5 177.50h-2.1M256.5 175.50h-4.0" stroke="#000" stroke-width="1.15" fill="none"/>
<path d="M256.50 265.8v4.6M264.50 265.8v3.1M268.50 265.8v3.1M272.50 265.8v3.1M274.50 265.8v3.1M276.50 265.8v3.1M278.50 265.8v3.1M280.50 265.8v3.1M281.50 265.8v3.1M282.50 265.8v4.6M290.50 265.8v3.1M295.50 265.8v3.1M298.50 265.8v3.1M300.50 265.8v3.1M302.50 265.8v3.1M304.50 265.8v3.1M306.50 265.8v3.1M307.50 265.8v3.1M308.50 265.8v4.6M316.50 265.8v3.1M321.50 265.8v3.1M324.50 265.8v3.1M327.50 265.8v3.1M329.50 265.8v3.1M330.50 265.8v3.1M332.50 265.8v3.1M333.50 265.8v3.1M334.50 265.8v4.6M342.50 265.8v3.1M347.50 265.8v3.1M350.50 265.8v3.1M353.50 265.8v3.1M355.50 265.8v3.1M356.50 265.8v3.1M358.50 265.8v3.1M359.50 265.8v3.1M361.50 265.8v4.6" stroke="#000" stroke-width="1.3" fill="none"/>
<g font-family="'Liberation Sans', sans-serif" font-weight="bold" fill="#000" stroke="#000" stroke-width="0.35">
<text transform="translate(251.3 265.8) rotate(-90)" x="-2.3" y="0" font-size="7.6" textLength="4.6" lengthAdjust="spacingAndGlyphs">0</text>
<text transform="translate(251.3 247.8) rotate(-90)" x="-4.7" y="0" font-size="7.6" textLength="9.3" lengthAdjust="spacingAndGlyphs">40</text>
<text transform="translate(251.3 229.7) rotate(-90)" x="-4.7" y="0" font-size="7.6" textLength="9.3" lengthAdjust="spacingAndGlyphs">80</text>
<text transform="translate(251.3 211.7) rotate(-90)" x="-7.0" y="0" font-size="7.6" textLength="14.0" lengthAdjust="spacingAndGlyphs">120</text>
<text transform="translate(251.3 193.6) rotate(-90)" x="-7.0" y="0" font-size="7.6" textLength="14.0" lengthAdjust="spacingAndGlyphs">160</text>
<text transform="translate(251.3 175.6) rotate(-90)" x="-7.0" y="0" font-size="7.6" textLength="14.0" lengthAdjust="spacingAndGlyphs">200</text>
<text transform="translate(244.2 222.5) rotate(-90)" x="-13.6" y="0" font-size="8" textLength="27.2" lengthAdjust="spacingAndGlyphs">Counts</text>
<text x="251.3" y="280.0" font-size="9.3" textLength="7.2" lengthAdjust="spacingAndGlyphs">10</text>
<text x="258.8" y="276.8" font-size="8.2" textLength="3.9" lengthAdjust="spacingAndGlyphs">0</text>
<text x="277.2" y="280.0" font-size="9.3" textLength="7.2" lengthAdjust="spacingAndGlyphs">10</text>
<text x="284.7" y="276.8" font-size="8.2" textLength="3.9" lengthAdjust="spacingAndGlyphs">1</text>
<text x="303.2" y="280.0" font-size="9.3" textLength="7.2" lengthAdjust="spacingAndGlyphs">10</text>
<text x="310.7" y="276.8" font-size="8.2" textLength="3.9" lengthAdjust="spacingAndGlyphs">2</text>
<text x="329.1" y="280.0" font-size="9.3" textLength="7.2" lengthAdjust="spacingAndGlyphs">10</text>
<text x="336.6" y="276.8" font-size="8.2" textLength="3.9" lengthAdjust="spacingAndGlyphs">3</text>
<text x="355.0" y="280.0" font-size="9.3" textLength="7.2" lengthAdjust="spacingAndGlyphs">10</text>
<text x="362.5" y="276.8" font-size="8.2" textLength="3.9" lengthAdjust="spacingAndGlyphs">4</text>
<text x="294.1" y="286.8" font-size="8.6" textLength="29.2" lengthAdjust="spacingAndGlyphs">CD54 PE</text>
</g>
</g>
<g>
<path d="M435.8 266.8L436.6 266.1L437.5 266.0L438.4 266.0L439.3 266.4L440.2 266.4L441.0 265.3L441.9 265.8L442.9 264.4L443.8 264.8L444.8 265.3L445.8 264.5L446.9 262.3L448.1 261.9L449.2 259.3L450.4 258.1L451.5 254.9L452.7 254.2L453.8 254.5L455.0 251.9L456.2 251.0L457.3 249.6L458.3 246.6L459.4 246.1L460.4 247.6L461.4 247.2L462.4 248.2L463.5 248.1L464.4 248.6L465.3 245.3L466.2 247.3L466.5 247.0L467.7 244.9L468.8 246.5L469.2 246.5L470.1 247.9L471.0 246.5L471.9 247.3L472.3 247.6L473.3 246.7L474.2 248.1L475.4 248.8L476.5 249.4L477.7 251.9L479.2 255.8L480.3 258.4L481.3 256.3L482.3 257.8L483.5 258.9L484.6 259.6L485.6 259.4L486.7 259.8L487.7 260.4L488.7 262.1L489.7 263.1L490.8 261.9L491.8 261.9L492.8 261.7L493.8 263.0L494.9 264.2L495.9 263.2L496.9 264.5L497.9 263.9L499.0 266.4L500.0 266.1L500.9 266.1L501.8 266.9L502.8 266.4L503.7 267.3L504.6 266.8L505.5 266.8L506.3 266.4L507.2 266.2L508.0 267.0L508.9 267.1L509.7 267.4L510.6 266.4L511.5 267.2L512.3 267.0V267.5H435.8Z" fill="#6c6c6c" stroke="#000" stroke-width="1.45" stroke-linejoin="round"/>
<path d="M406.8 265.0L407.8 264.3L408.7 264.0L409.6 263.5L410.6 262.7L411.7 262.8L412.7 263.0L413.8 262.9L415.0 262.7L416.2 261.7L417.3 258.8L418.5 255.9L419.6 255.0L420.8 252.7L421.9 250.4L423.5 248.1L425.0 242.7L426.2 240.4L427.3 235.8L428.8 228.8L430.0 227.0L431.2 220.8L432.7 228.8L434.2 234.2L435.8 241.9L437.3 251.2L438.8 259.6L440.4 263.5L441.5 264.0L442.7 265.5L443.7 265.2L444.6 266.6L445.6 266.9L446.5 266.5" fill="none" stroke="#000" stroke-width="1.25" stroke-linejoin="round"/>
<path d="M406.0 266.8L406.9 267.4L407.8 266.2L408.7 267.0L409.6 266.2L410.5 266.6L411.4 266.3L412.3 267.3L413.2 266.4L414.1 267.2L415.0 266.9L415.9 266.3L416.8 266.3L417.7 267.2L418.6 267.2L419.5 266.9L420.4 266.8L421.3 267.0L422.2 267.3L423.1 267.2L424.0 266.5L424.9 266.2L425.8 267.4L426.7 266.7L427.6 266.4L428.5 267.4L429.4 266.3L430.3 267.3L431.2 266.7L432.1 266.7L433.0 266.6L433.9 267.1L434.8 266.9L435.7 266.7L436.6 266.9L437.5 266.6L438.4 266.9L439.3 266.9L440.2 267.5L441.1 266.6L442.0 266.8L442.9 267.2L443.8 266.4L444.7 266.4L445.6 266.9L446.5 267.2L447.4 266.8L448.3 267.4L449.2 267.3L450.1 266.9L451.0 267.4L451.9 266.9L452.8 266.8L453.7 267.4L454.6 266.6L455.5 267.4L456.4 266.5L457.3 266.4L458.2 266.8L459.1 267.4L460.0 266.8L460.9 267.0L461.8 266.2L462.7 267.3L463.6 266.3L464.5 266.1L465.4 266.5L466.3 266.4L467.2 267.2L468.1 266.1L469.0 266.8L469.9 266.2L470.8 266.2L471.7 267.3L472.6 266.4L473.5 266.2L474.4 267.4L475.3 267.0L476.2 266.4L477.1 267.3L478.0 266.2L478.9 267.1L479.8 266.4L480.7 267.3L481.6 266.8L482.5 266.2L483.4 267.2L484.3 267.1L485.2 266.8L486.1 267.1L487.0 267.4L487.9 267.2L488.8 267.3L489.7 266.2L490.6 266.5L491.5 266.2L492.4 267.3L493.3 266.4L494.2 267.3L495.1 266.8L496.0 266.6L496.9 267.0L497.8 266.3L498.7 266.7L499.6 266.7L500.5 266.3L501.4 267.4L502.3 266.1L503.2 266.6L504.1 266.9L505.0 266.4L505.9 267.1L506.8 266.1L507.7 266.7L508.6 267.0L509.5 266.4L510.4 266.9L511.3 267.3L512.2 266.5L513.1 267.4L514.0 266.4V268.0H406.0Z" fill="#000" stroke="#000" stroke-width="0.5"/>
<rect x="406.0" y="176.8" width="108.0" height="90.7" fill="none" stroke="#000" stroke-width="1.6"/>
<path d="M405.3 267.6H514.7" stroke="#000" stroke-width="2.1" fill="none"/>
<path d="M406.0 267.50h-4.0M406.0 265.50h-2.1M406.0 262.50h-2.1M406.0 260.50h-2.1M406.0 258.50h-2.1M406.0 256.50h-2.1M406.0 253.50h-2.1M406.0 251.50h-2.1M406.0 249.50h-4.0M406.0 247.50h-2.1M406.0 244.50h-2.1M406.0 242.50h-2.1M406.0 240.50h-2.1M406.0 238.50h-2.1M406.0 235.50h-2.1M406.0 233.50h-2.1M406.0 231.50h-4.0M406.0 228.50h-2.1M406.0 226.50h-2.1M406.0 224.50h-2.1M406.0 222.50h-2.1M406.0 219.50h-2.1M406.0 217.50h-2.1M406.0 215.50h-2.1M406.0 213.50h-4.0M406.0 210.50h-2.1M406.0 208.50h-2.1M406.0 206.50h-2.1M406.0 204.50h-2.1M406.0 201.50h-2.1M406.0 199.50h-2.1M406.0 197.50h-2.1M406.0 194.50h-4.0M406.0 192.50h-2.1M406.0 190.50h-2.1M406.0 188.50h-2.1M406.0 185.50h-2.1M406.0 183.50h-2.1M406.0 181.50h-2.1M406.0 179.50h-2.1M406.0 176.50h-4.0" stroke="#000" stroke-width="1.15" fill="none"/>
<path d="M406.50 267.5v4.6M414.50 267.5v3.1M418.50 267.5v3.1M422.50 267.5v3.1M424.50 267.5v3.1M427.50 267.5v3.1M428.50 267.5v3.1M430.50 267.5v3.1M431.50 267.5v3.1M433.50 267.5v4.6M441.50 267.5v3.1M445.50 267.5v3.1M449.50 267.5v3.1M451.50 267.5v3.1M454.50 267.5v3.1M455.50 267.5v3.1M457.50 267.5v3.1M458.50 267.5v3.1M460.50 267.5v4.6M468.50 267.5v3.1M472.50 267.5v3.1M476.50 267.5v3.1M478.50 267.5v3.1M481.50 267.5v3.1M482.50 267.5v3.1M484.50 267.5v3.1M485.50 267.5v3.1M487.50 267.5v4.6M495.50 267.5v3.1M499.50 267.5v3.1M503.50 267.5v3.1M505.50 267.5v3.1M508.50 267.5v3.1M509.50 267.5v3.1M511.50 267.5v3.1M512.50 267.5v3.1M514.50 267.5v4.6" stroke="#000" stroke-width="1.3" fill="none"/>
<g font-family="'Liberation Sans', sans-serif" font-weight="bold" fill="#000" stroke="#000" stroke-width="0.35">
<text transform="translate(400.8 267.5) rotate(-90)" x="-2.3" y="0" font-size="7.6" textLength="4.6" lengthAdjust="spacingAndGlyphs">0</text>
<text transform="translate(400.8 249.4) rotate(-90)" x="-4.7" y="0" font-size="7.6" textLength="9.3" lengthAdjust="spacingAndGlyphs">40</text>
<text transform="translate(400.8 231.2) rotate(-90)" x="-4.7" y="0" font-size="7.6" textLength="9.3" lengthAdjust="spacingAndGlyphs">80</text>
<text transform="translate(400.8 213.1) rotate(-90)" x="-7.0" y="0" font-size="7.6" textLength="14.0" lengthAdjust="spacingAndGlyphs">120</text>
<text transform="translate(400.8 194.9) rotate(-90)" x="-7.0" y="0" font-size="7.6" textLength="14.0" lengthAdjust="spacingAndGlyphs">160</text>
<text transform="translate(400.8 176.8) rotate(-90)" x="-7.0" y="0" font-size="7.6" textLength="14.0" lengthAdjust="spacingAndGlyphs">200</text>
<text transform="translate(393.7 224.0) rotate(-90)" x="-13.6" y="0" font-size="8" textLength="27.2" lengthAdjust="spacingAndGlyphs">Counts</text>
<text x="400.8" y="281.7" font-size="9.3" textLength="7.2" lengthAdjust="spacingAndGlyphs">10</text>
<text x="408.3" y="278.5" font-size="8.2" textLength="3.9" lengthAdjust="spacingAndGlyphs">0</text>
<text x="427.6" y="281.7" font-size="9.3" textLength="7.2" lengthAdjust="spacingAndGlyphs">10</text>
<text x="435.1" y="278.5" font-size="8.2" textLength="3.9" lengthAdjust="spacingAndGlyphs">1</text>
<text x="454.4" y="281.7" font-size="9.3" textLength="7.2" lengthAdjust="spacingAndGlyphs">10</text>
<text x="461.9" y="278.5" font-size="8.2" textLength="3.9" lengthAdjust="spacingAndGlyphs">2</text>
<text x="481.2" y="281.7" font-size="9.3" textLength="7.2" lengthAdjust="spacingAndGlyphs">10</text>
<text x="488.7" y="278.5" font-size="8.2" textLength="3.9" lengthAdjust="spacingAndGlyphs">3</text>
<text x="507.0" y="281.7" font-size="9.3" textLength="7.2" lengthAdjust="spacingAndGlyphs">10</text>
<text x="514.5" y="278.5" font-size="8.2" textLength="3.9" lengthAdjust="spacingAndGlyphs">4</text>
<text x="445.5" y="288.5" font-size="8.6" textLength="29.0" lengthAdjust="spacingAndGlyphs">CD58 PE</text>
</g>
</g>
<g>
<path d="M112.3 398.0L113.2 397.2L114.2 397.5L115.1 397.8L116.0 396.6L116.9 396.0L117.9 395.8L118.8 394.2L119.8 392.6L120.8 393.4L121.9 390.2L123.1 390.3L124.2 386.5L125.4 385.7L126.5 384.3L127.7 381.8L128.8 380.3L130.0 379.5L131.5 377.2L133.1 381.1L134.6 381.1L136.2 384.9L137.3 386.5L138.5 388.0L139.6 390.4L140.8 389.5L141.8 387.3L142.8 386.9L143.8 387.2L145.0 389.0L146.2 389.5L147.2 387.2L148.2 386.7L149.2 388.3L150.3 388.1L151.3 387.6L152.3 389.5L153.3 389.2L154.4 389.0L155.4 390.3L156.4 390.4L157.4 390.1L158.5 389.5L159.5 389.2L160.5 391.5L161.5 391.8L162.6 391.0L163.6 388.9L164.6 389.5L165.8 392.7L166.9 392.6L167.9 390.0L169.0 387.9L170.0 387.7L171.2 388.6L172.3 392.6L173.3 392.8L174.4 393.4L175.4 391.8L176.4 393.4L177.4 392.9L178.5 393.8L179.5 393.5L180.5 393.2L181.5 394.9L182.6 395.6L183.6 395.6L184.6 395.7L185.6 395.1L186.7 395.6L187.7 394.9L188.7 395.0L189.6 396.4L190.6 396.1L191.5 395.7L192.6 395.5L193.6 397.4L194.6 396.9L195.6 395.9L196.5 396.8L197.5 396.4L198.5 396.5L199.5 396.3L200.5 396.3L201.5 397.5L202.5 398.0L203.4 396.7L204.3 397.6L205.2 398.3L206.2 397.5L207.1 397.0L207.9 397.2L208.8 397.9L209.7 397.9L210.6 398.1L211.5 398.0V398.6H112.3Z" fill="#6c6c6c" stroke="#000" stroke-width="1.45" stroke-linejoin="round"/>
<path d="M103.1 398.0L104.0 398.1L104.8 397.2L105.7 397.1L106.6 396.9L107.5 396.3L108.4 397.2L109.2 396.5L110.3 396.2L111.3 395.3L112.3 394.2L113.3 391.3L114.4 391.4L115.4 388.8L116.5 386.4L117.7 382.6L118.8 378.3L120.0 374.2L121.2 370.1L122.3 364.2L123.5 360.1L124.6 356.5L125.8 352.9L126.9 351.8L128.5 357.2L130.0 363.4L131.5 371.1L133.1 379.5L134.6 387.2L136.2 392.6L137.3 393.8L138.5 396.5L139.5 396.6L140.5 396.9L141.5 398.0" fill="none" stroke="#000" stroke-width="1.25" stroke-linejoin="round"/>
<path d="M101.7 398.1L102.6 397.6L103.5 397.6L104.4 397.4L105.3 397.6L106.2 398.2L107.1 397.8L108.0 398.0L108.9 397.5L109.8 397.9L110.7 398.2L111.6 397.7L112.5 397.2L113.4 398.3L114.3 397.4L115.2 398.6L116.1 398.2L117.0 398.3L117.9 397.6L118.8 397.3L119.7 397.6L120.6 398.1L121.5 397.4L122.4 398.1L123.3 398.3L124.2 397.3L125.1 397.7L126.0 397.6L126.9 397.7L127.8 397.2L128.7 397.9L129.6 397.4L130.5 397.6L131.4 397.4L132.3 398.0L133.2 397.6L134.1 397.8L135.0 398.2L135.9 398.3L136.8 397.7L137.7 398.5L138.6 397.3L139.5 398.4L140.4 398.6L141.3 398.5L142.2 397.3L143.1 398.1L144.0 398.4L144.9 398.6L145.8 398.5L146.7 397.6L147.6 397.7L148.5 397.6L149.4 397.6L150.3 398.5L151.2 397.8L152.1 398.1L153.0 397.5L153.9 397.5L154.8 397.4L155.7 398.5L156.6 397.4L157.5 397.3L158.4 397.3L159.3 398.5L160.2 398.3L161.1 398.4L162.0 398.6L162.9 397.4L163.8 397.5L164.7 397.7L165.6 397.4L166.5 397.7L167.4 398.2L168.3 398.5L169.2 398.5L170.1 397.5L171.0 398.3L171.9 398.2L172.8 398.0L173.7 398.6L174.6 398.2L175.5 398.2L176.4 397.6L177.3 398.1L178.2 398.2L179.1 397.3L180.0 397.9L180.9 397.4L181.8 397.7L182.7 398.6L183.6 398.0L184.5 398.0L185.4 397.5L186.3 398.1L187.2 397.6L188.1 397.8L189.0 398.3L189.9 397.4L190.8 398.5L191.7 397.5L192.6 398.4L193.5 398.6L194.4 398.3L195.3 397.5L196.2 397.2L197.1 398.6L198.0 397.9L198.9 397.9L199.8 397.5L200.7 398.3L201.6 397.9L202.5 398.1L203.4 397.4L204.3 398.2L205.2 397.3L206.1 398.2L207.0 398.3L207.9 397.6L208.8 397.9L209.7 398.4L210.6 397.7L211.5 398.5L212.4 397.5V399.1H101.7Z" fill="#000" stroke="#000" stroke-width="0.5"/>
<rect x="101.7" y="309.5" width="111.3" height="89.1" fill="none" stroke="#000" stroke-width="1.6"/>
<path d="M101.0 398.7H213.7" stroke="#000" stroke-width="2.1" fill="none"/>
<path d="M101.7 398.50h-4.0M101.7 396.50h-2.1M101.7 394.50h-2.1M101.7 391.50h-2.1M101.7 389.50h-2.1M101.7 387.50h-2.1M101.7 385.50h-2.1M101.7 383.50h-2.1M101.7 380.50h-4.0M101.7 378.50h-2.1M101.7 376.50h-2.1M101.7 374.50h-2.1M101.7 371.50h-2.1M101.7 369.50h-2.1M101.7 367.50h-2.1M101.7 365.50h-2.1M101.7 362.50h-4.0M101.7 360.50h-2.1M101.7 358.50h-2.1M101.7 356.50h-2.1M101.7 354.50h-2.1M101.7 351.50h-2.1M101.7 349.50h-2.1M101.7 347.50h-2.1M101.7 345.50h-4.0M101.7 342.50h-2.1M101.7 340.50h-2.1M101.7 338.50h-2.1M101.7 336.50h-2.1M101.7 334.50h-2.1M101.7 331.50h-2.1M101.7 329.50h-2.1M101.7 327.50h-4.0M101.7 325.50h-2.1M101.7 322.50h-2.1M101.7 320.50h-2.1M101.7 318.50h-2.1M101.7 316.50h-2.1M101.7 313.50h-2.1M101.7 311.50h-2.1M101.7 309.50h-4.0" stroke="#000" stroke-width="1.15" fill="none"/>
<path d="M101.50 398.6v4.6M110.50 398.6v3.1M114.50 398.6v3.1M118.50 398.6v3.1M121.50 398.6v3.1M123.50 398.6v3.1M125.50 398.6v3.1M126.50 398.6v3.1M128.50 398.6v3.1M129.50 398.6v4.6M137.50 398.6v3.1M142.50 398.6v3.1M146.50 398.6v3.1M148.50 398.6v3.1M151.50 398.6v3.1M153.50 398.6v3.1M154.50 398.6v3.1M156.50 398.6v3.1M157.50 398.6v4.6M165.50 398.6v3.1M170.50 398.6v3.1M174.50 398.6v3.1M176.50 398.6v3.1M179.50 398.6v3.1M180.50 398.6v3.1M182.50 398.6v3.1M183.50 398.6v3.1M185.50 398.6v4.6M193.50 398.6v3.1M198.50 398.6v3.1M201.50 398.6v3.1M204.50 398.6v3.1M206.50 398.6v3.1M208.50 398.6v3.1M210.50 398.6v3.1M211.50 398.6v3.1M213.50 398.6v4.6" stroke="#000" stroke-width="1.3" fill="none"/>
<g font-family="'Liberation Sans', sans-serif" font-weight="bold" fill="#000" stroke="#000" stroke-width="0.35">
<text transform="translate(96.5 398.6) rotate(-90)" x="-2.3" y="0" font-size="7.6" textLength="4.6" lengthAdjust="spacingAndGlyphs">0</text>
<text transform="translate(96.5 380.8) rotate(-90)" x="-4.7" y="0" font-size="7.6" textLength="9.3" lengthAdjust="spacingAndGlyphs">40</text>
<text transform="translate(96.5 363.0) rotate(-90)" x="-4.7" y="0" font-size="7.6" textLength="9.3" lengthAdjust="spacingAndGlyphs">80</text>
<text transform="translate(96.5 345.1) rotate(-90)" x="-7.0" y="0" font-size="7.6" textLength="14.0" lengthAdjust="spacingAndGlyphs">120</text>
<text transform="translate(96.5 327.3) rotate(-90)" x="-7.0" y="0" font-size="7.6" textLength="14.0" lengthAdjust="spacingAndGlyphs">160</text>
<text transform="translate(96.5 309.5) rotate(-90)" x="-7.0" y="0" font-size="7.6" textLength="14.0" lengthAdjust="spacingAndGlyphs">200</text>
<text transform="translate(89.4 355.8) rotate(-90)" x="-13.6" y="0" font-size="8" textLength="27.2" lengthAdjust="spacingAndGlyphs">Counts</text>
<text x="96.5" y="412.8" font-size="9.3" textLength="7.2" lengthAdjust="spacingAndGlyphs">10</text>
<text x="104.0" y="409.6" font-size="8.2" textLength="3.9" lengthAdjust="spacingAndGlyphs">0</text>
<text x="124.1" y="412.8" font-size="9.3" textLength="7.2" lengthAdjust="spacingAndGlyphs">10</text>
<text x="131.6" y="409.6" font-size="8.2" textLength="3.9" lengthAdjust="spacingAndGlyphs">1</text>
<text x="151.8" y="412.8" font-size="9.3" textLength="7.2" lengthAdjust="spacingAndGlyphs">10</text>
<text x="159.2" y="409.6" font-size="8.2" textLength="3.9" lengthAdjust="spacingAndGlyphs">2</text>
<text x="179.4" y="412.8" font-size="9.3" textLength="7.2" lengthAdjust="spacingAndGlyphs">10</text>
<text x="186.9" y="409.6" font-size="8.2" textLength="3.9" lengthAdjust="spacingAndGlyphs">3</text>
<text x="207.0" y="412.8" font-size="9.3" textLength="7.2" lengthAdjust="spacingAndGlyphs">10</text>
<text x="214.5" y="409.6" font-size="8.2" textLength="3.9" lengthAdjust="spacingAndGlyphs">4</text>
<text x="139.8" y="419.6" font-size="8.6" textLength="35.0" lengthAdjust="spacingAndGlyphs">CD80 FITC</text>
</g>
</g>
<g>
<path d="M285.8 398.0L286.6 398.1L287.5 398.1L288.4 397.7L289.3 397.2L290.2 397.1L291.0 396.9L291.9 396.9L292.8 397.4L293.8 395.6L294.7 397.0L295.6 394.9L296.5 395.7L297.7 393.7L298.8 393.4L300.0 391.9L301.2 391.8L302.3 391.8L303.5 388.8L304.6 387.6L305.8 386.5L306.9 384.4L308.1 383.4L309.2 384.1L310.4 381.1L311.9 376.5L313.1 375.7L314.2 378.0L315.4 375.5L316.5 373.4L317.7 374.3L318.8 374.9L320.0 375.3L321.2 372.6L322.7 376.5L324.2 381.1L325.8 378.0L327.4 384.9L328.3 386.8L329.1 387.1L330.0 387.2L331.2 388.2L332.3 390.3L333.5 389.3L334.6 389.5L335.8 389.9L336.9 392.6L337.9 394.2L339.0 394.1L340.0 394.2L341.0 395.3L342.1 394.3L343.1 395.7L344.1 396.1L345.1 397.2L346.2 397.2L347.0 397.4L347.9 396.8L348.8 397.4L349.7 398.1L350.5 397.2L351.4 397.2L352.3 397.7L353.2 397.5L354.0 398.1L354.9 398.1L355.7 397.5L356.6 397.6L357.4 397.7L358.3 397.9L359.1 398.1L360.0 398.1V398.2H285.8Z" fill="#6c6c6c" stroke="#000" stroke-width="1.45" stroke-linejoin="round"/>
<path d="M256.8 396.0L257.8 394.9L258.7 394.7L259.6 394.5L260.6 393.7L261.7 394.9L262.7 393.8L263.8 394.0L265.0 393.4L266.2 390.6L267.3 389.5L268.5 388.8L269.6 385.7L270.8 382.2L271.9 381.1L273.5 379.5L275.0 373.4L276.2 369.5L277.3 366.5L278.8 359.5L280.0 357.9L281.2 351.8L282.7 361.1L284.2 365.7L285.8 373.4L287.3 382.6L288.8 391.1L290.4 394.9L291.9 396.9L292.9 397.5L293.8 397.6L294.8 397.4L295.8 397.7" fill="none" stroke="#000" stroke-width="1.25" stroke-linejoin="round"/>
<path d="M256.4 397.9L257.3 397.3L258.2 398.1L259.1 397.9L260.0 397.7L260.9 398.2L261.8 397.6L262.7 397.1L263.6 397.2L264.5 397.5L265.4 397.3L266.3 397.6L267.2 398.0L268.1 397.4L269.0 397.6L269.9 397.2L270.8 396.9L271.7 397.6L272.6 397.4L273.5 397.2L274.4 397.6L275.3 397.9L276.2 397.2L277.1 397.0L278.0 397.1L278.9 397.2L279.8 397.0L280.7 397.2L281.6 397.3L282.5 397.6L283.4 397.8L284.3 397.3L285.2 398.1L286.1 397.6L287.0 397.1L287.9 397.2L288.8 397.3L289.7 397.8L290.6 397.6L291.5 397.6L292.4 397.3L293.3 397.6L294.2 397.3L295.1 396.9L296.0 397.9L296.9 397.3L297.8 397.1L298.7 397.7L299.6 397.5L300.5 396.8L301.4 398.1L302.3 397.4L303.2 398.0L304.1 397.1L305.0 396.9L305.9 397.5L306.8 398.1L307.7 397.4L308.6 397.4L309.5 397.2L310.4 397.5L311.3 397.3L312.2 397.0L313.1 397.5L314.0 397.6L314.9 396.9L315.8 397.9L316.7 397.2L317.6 397.7L318.5 397.1L319.4 398.0L320.3 396.8L321.2 397.7L322.1 398.1L323.0 397.8L323.9 397.6L324.8 398.2L325.7 397.6L326.6 397.6L327.5 397.2L328.4 397.7L329.3 397.8L330.2 397.9L331.1 397.2L332.0 396.9L332.9 397.5L333.8 397.9L334.7 397.1L335.6 397.7L336.5 397.9L337.4 398.0L338.3 397.1L339.2 397.1L340.1 397.3L341.0 397.5L341.9 397.4L342.8 397.9L343.7 396.9L344.6 397.7L345.5 397.3L346.4 397.1L347.3 397.1L348.2 397.5L349.1 397.8L350.0 397.4L350.9 398.0L351.8 397.0L352.7 397.7L353.6 397.0L354.5 397.8L355.4 397.7L356.3 397.8L357.2 397.6L358.1 397.9L359.0 398.2L359.9 397.2L360.8 397.8V398.7H256.4Z" fill="#000" stroke="#000" stroke-width="0.5"/>
<rect x="256.4" y="308.2" width="104.8" height="90.0" fill="none" stroke="#000" stroke-width="1.6"/>
<path d="M255.7 398.3H361.9" stroke="#000" stroke-width="2.1" fill="none"/>
<path d="M256.4 398.50h-4.0M256.4 395.50h-2.1M256.4 393.50h-2.1M256.4 391.50h-2.1M256.4 389.50h-2.1M256.4 386.50h-2.1M256.4 384.50h-2.1M256.4 382.50h-2.1M256.4 380.50h-4.0M256.4 377.50h-2.1M256.4 375.50h-2.1M256.4 373.50h-2.1M256.4 371.50h-2.1M256.4 368.50h-2.1M256.4 366.50h-2.1M256.4 364.50h-2.1M256.4 362.50h-4.0M256.4 359.50h-2.1M256.4 357.50h-2.1M256.4 355.50h-2.1M256.4 353.50h-2.1M256.4 350.50h-2.1M256.4 348.50h-2.1M256.4 346.50h-2.1M256.4 344.50h-4.0M256.4 341.50h-2.1M256.4 339.50h-2.1M256.4 337.50h-2.1M256.4 335.50h-2.1M256.4 332.50h-2.1M256.4 330.50h-2.1M256.4 328.50h-2.1M256.4 326.50h-4.0M256.4 323.50h-2.1M256.4 321.50h-2.1M256.4 319.50h-2.1M256.4 317.50h-2.1M256.4 314.50h-2.1M256.4 312.50h-2.1M256.4 310.50h-2.1M256.4 308.50h-4.0" stroke="#000" stroke-width="1.15" fill="none"/>
<path d="M256.50 398.2v4.6M264.50 398.2v3.1M268.50 398.2v3.1M272.50 398.2v3.1M274.50 398.2v3.1M276.50 398.2v3.1M278.50 398.2v3.1M280.50 398.2v3.1M281.50 398.2v3.1M282.50 398.2v4.6M290.50 398.2v3.1M295.50 398.2v3.1M298.50 398.2v3.1M300.50 398.2v3.1M302.50 398.2v3.1M304.50 398.2v3.1M306.50 398.2v3.1M307.50 398.2v3.1M308.50 398.2v4.6M316.50 398.2v3.1M321.50 398.2v3.1M324.50 398.2v3.1M327.50 398.2v3.1M329.50 398.2v3.1M330.50 398.2v3.1M332.50 398.2v3.1M333.50 398.2v3.1M335.50 398.2v4.6M342.50 398.2v3.1M347.50 398.2v3.1M350.50 398.2v3.1M353.50 398.2v3.1M355.50 398.2v3.1M357.50 398.2v3.1M358.50 398.2v3.1M360.50 398.2v3.1M361.50 398.2v4.6" stroke="#000" stroke-width="1.3" fill="none"/>
<g font-family="'Liberation Sans', sans-serif" font-weight="bold" fill="#000" stroke="#000" stroke-width="0.35">
<text transform="translate(251.2 398.2) rotate(-90)" x="-2.3" y="0" font-size="7.6" textLength="4.6" lengthAdjust="spacingAndGlyphs">0</text>
<text transform="translate(251.2 380.2) rotate(-90)" x="-4.7" y="0" font-size="7.6" textLength="9.3" lengthAdjust="spacingAndGlyphs">40</text>
<text transform="translate(251.2 362.2) rotate(-90)" x="-4.7" y="0" font-size="7.6" textLength="9.3" lengthAdjust="spacingAndGlyphs">80</text>
<text transform="translate(251.2 344.2) rotate(-90)" x="-7.0" y="0" font-size="7.6" textLength="14.0" lengthAdjust="spacingAndGlyphs">120</text>
<text transform="translate(251.2 326.2) rotate(-90)" x="-7.0" y="0" font-size="7.6" textLength="14.0" lengthAdjust="spacingAndGlyphs">160</text>
<text transform="translate(251.2 308.2) rotate(-90)" x="-7.0" y="0" font-size="7.6" textLength="14.0" lengthAdjust="spacingAndGlyphs">200</text>
<text transform="translate(244.1 355.0) rotate(-90)" x="-13.6" y="0" font-size="8" textLength="27.2" lengthAdjust="spacingAndGlyphs">Counts</text>
<text x="251.2" y="412.4" font-size="9.3" textLength="7.2" lengthAdjust="spacingAndGlyphs">10</text>
<text x="258.7" y="409.2" font-size="8.2" textLength="3.9" lengthAdjust="spacingAndGlyphs">0</text>
<text x="277.2" y="412.4" font-size="9.3" textLength="7.2" lengthAdjust="spacingAndGlyphs">10</text>
<text x="284.7" y="409.2" font-size="8.2" textLength="3.9" lengthAdjust="spacingAndGlyphs">1</text>
<text x="303.2" y="412.4" font-size="9.3" textLength="7.2" lengthAdjust="spacingAndGlyphs">10</text>
<text x="310.7" y="409.2" font-size="8.2" textLength="3.9" lengthAdjust="spacingAndGlyphs">2</text>
<text x="329.2" y="412.4" font-size="9.3" textLength="7.2" lengthAdjust="spacingAndGlyphs">10</text>
<text x="336.7" y="409.2" font-size="8.2" textLength="3.9" lengthAdjust="spacingAndGlyphs">3</text>
<text x="355.2" y="412.4" font-size="9.3" textLength="7.2" lengthAdjust="spacingAndGlyphs">10</text>
<text x="362.7" y="409.2" font-size="8.2" textLength="3.9" lengthAdjust="spacingAndGlyphs">4</text>
<text x="294.2" y="419.2" font-size="8.6" textLength="29.2" lengthAdjust="spacingAndGlyphs">CD54 PE</text>
</g>
</g>
<g>
<path d="M435.8 399.5L436.6 399.1L437.5 398.9L438.4 399.0L439.3 398.8L440.2 399.0L441.0 398.9L441.9 398.5L442.8 397.9L443.8 398.8L444.7 398.3L445.6 396.2L446.5 396.9L447.6 396.9L448.6 396.3L449.6 394.2L450.8 393.3L451.9 390.3L453.1 386.8L454.2 386.5L455.4 386.9L456.5 384.2L457.7 383.3L458.8 381.1L460.0 379.3L461.2 382.6L462.3 379.0L463.5 380.6L464.6 383.3L465.8 381.1L466.9 381.9L468.1 381.1L469.0 378.8L470.0 379.2L470.4 379.5L471.3 378.1L472.3 381.1L472.7 381.1L473.7 378.9L474.6 380.6L475.0 380.6L476.0 380.6L476.9 383.4L478.1 385.9L479.2 385.7L480.4 386.1L481.5 388.0L482.7 388.1L483.8 391.1L485.0 393.3L486.2 392.6L487.2 394.4L488.2 393.1L489.2 394.9L490.3 396.6L491.3 396.2L492.3 396.5L493.3 397.4L494.2 397.4L495.2 398.2L496.2 397.5L497.1 398.5L498.1 398.8L499.0 397.9L500.0 398.8L500.9 399.2L501.8 399.1L502.8 399.6L503.7 399.3L504.6 399.5L505.5 399.7L506.3 399.6L507.2 399.3L508.0 399.3L508.9 399.2L509.7 399.6L510.6 399.2L511.5 399.6L512.3 399.7V399.8H435.8Z" fill="#6c6c6c" stroke="#000" stroke-width="1.45" stroke-linejoin="round"/>
<path d="M406.8 397.5L407.8 396.5L408.7 396.5L409.6 396.0L410.6 395.9L411.7 395.9L412.7 395.7L413.8 396.2L415.0 395.4L416.2 392.4L417.3 391.5L418.5 390.5L419.6 387.7L420.8 385.3L421.9 383.1L423.5 381.1L425.0 375.7L426.2 372.5L427.3 368.8L428.8 361.8L429.7 360.0L430.6 358.3L431.5 354.2L433.0 362.6L434.5 368.0L436.1 375.7L437.6 384.9L439.2 392.6L440.7 396.5L441.7 397.1L442.7 398.2L443.7 398.3L444.6 399.2L445.6 398.3L446.5 399.1" fill="none" stroke="#000" stroke-width="1.25" stroke-linejoin="round"/>
<path d="M406.3 398.9L407.2 398.9L408.1 399.8L409.0 398.9L409.9 398.8L410.8 398.5L411.7 399.3L412.6 398.4L413.5 399.1L414.4 399.1L415.3 398.5L416.2 399.8L417.1 398.8L418.0 398.9L418.9 399.3L419.8 398.6L420.7 399.3L421.6 399.1L422.5 399.1L423.4 398.7L424.3 399.5L425.2 399.2L426.1 399.2L427.0 399.0L427.9 398.6L428.8 399.4L429.7 398.6L430.6 399.2L431.5 399.1L432.4 399.4L433.3 399.1L434.2 398.4L435.1 398.9L436.0 398.7L436.9 399.3L437.8 399.4L438.7 399.4L439.6 399.0L440.5 398.9L441.4 398.7L442.3 399.7L443.2 398.8L444.1 398.6L445.0 399.0L445.9 399.7L446.8 399.4L447.7 399.8L448.6 399.5L449.5 398.5L450.4 398.9L451.3 398.9L452.2 398.7L453.1 398.5L454.0 398.9L454.9 398.9L455.8 398.9L456.7 398.8L457.6 399.0L458.5 398.8L459.4 399.5L460.3 398.9L461.2 399.2L462.1 398.7L463.0 399.7L463.9 399.5L464.8 399.7L465.7 398.7L466.6 398.5L467.5 398.9L468.4 399.3L469.3 398.6L470.2 398.7L471.1 399.0L472.0 399.4L472.9 399.4L473.8 399.2L474.7 399.4L475.6 399.2L476.5 398.9L477.4 398.5L478.3 399.7L479.2 399.0L480.1 399.7L481.0 399.6L481.9 398.7L482.8 399.0L483.7 398.5L484.6 399.2L485.5 399.8L486.4 399.3L487.3 399.0L488.2 398.5L489.1 398.4L490.0 399.1L490.9 399.2L491.8 399.7L492.7 398.9L493.6 399.5L494.5 399.6L495.4 399.8L496.3 399.8L497.2 398.8L498.1 399.6L499.0 398.4L499.9 399.7L500.8 398.6L501.7 399.6L502.6 399.8L503.5 398.8L504.4 399.5L505.3 398.8L506.2 399.5L507.1 399.7L508.0 398.7L508.9 398.8L509.8 398.6L510.7 398.8L511.6 399.7L512.5 398.9L513.4 398.8V400.3H406.3Z" fill="#000" stroke="#000" stroke-width="0.5"/>
<rect x="406.3" y="310.2" width="107.7" height="89.6" fill="none" stroke="#000" stroke-width="1.6"/>
<path d="M405.6 399.9H514.7" stroke="#000" stroke-width="2.1" fill="none"/>
<path d="M406.3 399.50h-4.0M406.3 397.50h-2.1M406.3 395.50h-2.1M406.3 393.50h-2.1M406.3 390.50h-2.1M406.3 388.50h-2.1M406.3 386.50h-2.1M406.3 384.50h-2.1M406.3 381.50h-4.0M406.3 379.50h-2.1M406.3 377.50h-2.1M406.3 375.50h-2.1M406.3 372.50h-2.1M406.3 370.50h-2.1M406.3 368.50h-2.1M406.3 366.50h-2.1M406.3 363.50h-4.0M406.3 361.50h-2.1M406.3 359.50h-2.1M406.3 357.50h-2.1M406.3 355.50h-2.1M406.3 352.50h-2.1M406.3 350.50h-2.1M406.3 348.50h-2.1M406.3 346.50h-4.0M406.3 343.50h-2.1M406.3 341.50h-2.1M406.3 339.50h-2.1M406.3 337.50h-2.1M406.3 334.50h-2.1M406.3 332.50h-2.1M406.3 330.50h-2.1M406.3 328.50h-4.0M406.3 325.50h-2.1M406.3 323.50h-2.1M406.3 321.50h-2.1M406.3 319.50h-2.1M406.3 316.50h-2.1M406.3 314.50h-2.1M406.3 312.50h-2.1M406.3 310.50h-4.0" stroke="#000" stroke-width="1.15" fill="none"/>
<path d="M406.50 399.8v4.6M414.50 399.8v3.1M419.50 399.8v3.1M422.50 399.8v3.1M425.50 399.8v3.1M427.50 399.8v3.1M429.50 399.8v3.1M430.50 399.8v3.1M431.50 399.8v3.1M433.50 399.8v4.6M441.50 399.8v3.1M446.50 399.8v3.1M449.50 399.8v3.1M452.50 399.8v3.1M454.50 399.8v3.1M455.50 399.8v3.1M457.50 399.8v3.1M458.50 399.8v3.1M460.50 399.8v4.6M468.50 399.8v3.1M472.50 399.8v3.1M476.50 399.8v3.1M478.50 399.8v3.1M481.50 399.8v3.1M482.50 399.8v3.1M484.50 399.8v3.1M485.50 399.8v3.1M487.50 399.8v4.6M495.50 399.8v3.1M499.50 399.8v3.1M503.50 399.8v3.1M505.50 399.8v3.1M508.50 399.8v3.1M509.50 399.8v3.1M511.50 399.8v3.1M512.50 399.8v3.1M514.50 399.8v4.6" stroke="#000" stroke-width="1.3" fill="none"/>
<g font-family="'Liberation Sans', sans-serif" font-weight="bold" fill="#000" stroke="#000" stroke-width="0.35">
<text transform="translate(401.1 399.8) rotate(-90)" x="-2.3" y="0" font-size="7.6" textLength="4.6" lengthAdjust="spacingAndGlyphs">0</text>
<text transform="translate(401.1 381.9) rotate(-90)" x="-4.7" y="0" font-size="7.6" textLength="9.3" lengthAdjust="spacingAndGlyphs">40</text>
<text transform="translate(401.1 364.0) rotate(-90)" x="-4.7" y="0" font-size="7.6" textLength="9.3" lengthAdjust="spacingAndGlyphs">80</text>
<text transform="translate(401.1 346.0) rotate(-90)" x="-7.0" y="0" font-size="7.6" textLength="14.0" lengthAdjust="spacingAndGlyphs">120</text>
<text transform="translate(401.1 328.1) rotate(-90)" x="-7.0" y="0" font-size="7.6" textLength="14.0" lengthAdjust="spacingAndGlyphs">160</text>
<text transform="translate(401.1 310.2) rotate(-90)" x="-7.0" y="0" font-size="7.6" textLength="14.0" lengthAdjust="spacingAndGlyphs">200</text>
<text transform="translate(394.0 356.8) rotate(-90)" x="-13.6" y="0" font-size="8" textLength="27.2" lengthAdjust="spacingAndGlyphs">Counts</text>
<text x="401.1" y="414.0" font-size="9.3" textLength="7.2" lengthAdjust="spacingAndGlyphs">10</text>
<text x="408.6" y="410.8" font-size="8.2" textLength="3.9" lengthAdjust="spacingAndGlyphs">0</text>
<text x="427.8" y="414.0" font-size="9.3" textLength="7.2" lengthAdjust="spacingAndGlyphs">10</text>
<text x="435.3" y="410.8" font-size="8.2" textLength="3.9" lengthAdjust="spacingAndGlyphs">1</text>
<text x="454.6" y="414.0" font-size="9.3" textLength="7.2" lengthAdjust="spacingAndGlyphs">10</text>
<text x="462.1" y="410.8" font-size="8.2" textLength="3.9" lengthAdjust="spacingAndGlyphs">2</text>
<text x="481.3" y="414.0" font-size="9.3" textLength="7.2" lengthAdjust="spacingAndGlyphs">10</text>
<text x="488.8" y="410.8" font-size="8.2" textLength="3.9" lengthAdjust="spacingAndGlyphs">3</text>
<text x="507.0" y="414.0" font-size="9.3" textLength="7.2" lengthAdjust="spacingAndGlyphs">10</text>
<text x="514.5" y="410.8" font-size="8.2" textLength="3.9" lengthAdjust="spacingAndGlyphs">4</text>
<text x="445.6" y="420.8" font-size="8.6" textLength="29.0" lengthAdjust="spacingAndGlyphs">CD58 PE</text>
</g>
</g>
</g>
<defs><filter id="soft" x="0" y="0" width="520" height="423" filterUnits="userSpaceOnUse"><feConvolveMatrix order="3" kernelMatrix="0.01 0.065 0.01 0.065 0.70 0.065 0.01 0.065 0.01" divisor="1" edgeMode="duplicate" preserveAlpha="false"/></filter></defs>
</svg>
</body></html>
